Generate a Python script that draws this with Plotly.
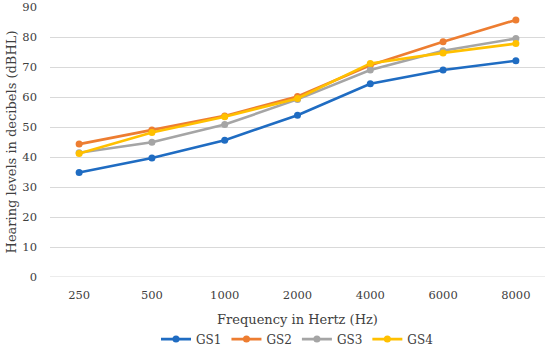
import plotly.graph_objects as go

frequencies = ["250", "500", "1000", "2000", "4000", "6000", "8000"]
gs1 = [34.8, 39.7, 45.6, 53.9, 64.4, 69.0, 72.1]
gs2 = [44.3, 49.0, 53.7, 60.2, 70.6, 78.4, 85.7]
gs3 = [41.4, 44.9, 50.8, 59.2, 69.0, 75.4, 79.5]
gs4 = [41.2, 48.2, 53.4, 59.5, 71.2, 74.7, 77.8]
series_names = ["GS1", "GS2", "GS3", "GS4"]
colors = ["#1F6CC2", "#ED7D31", "#A5A5A5", "#FFC000"]
y_ticks = [0, 10, 20, 30, 40, 50, 60, 70, 80, 90]

fig = go.Figure()
for name, vals, col in zip(series_names, [gs1, gs2, gs3, gs4], colors):
    fig.add_trace(go.Scatter(
        x=frequencies, y=vals, name=name, mode="lines+markers",
        line=dict(color=col, width=2.6),
        marker=dict(color=col, size=7),
        hoverinfo="skip",
    ))

font_family = "DejaVu Serif"
fig.update_layout(
    width=550, height=348,
    margin=dict(l=50, r=5, t=7, b=71, autoexpand=False),
    paper_bgcolor="white", plot_bgcolor="white",
    font=dict(family=font_family, color="#404040", size=12),
    showlegend=True,
    hovermode=False,
    legend=dict(orientation="h", x=0.5, xanchor="center", y=-0.23, yanchor="middle",
                font=dict(size=12, color="#404040"), itemwidth=30,
                tracegroupgap=0, traceorder="normal"),
    xaxis=dict(
        type="category", showgrid=False, zeroline=False, showline=False,
        ticks="", ticklabelstandoff=9, tickfont=dict(size=11.5, color="#404040"),
        title=dict(text="Frequency in Hertz (Hz)", font=dict(size=13, color="#404040"), standoff=14),
    ),
    yaxis=dict(
        range=[0, 90], tickvals=y_ticks, showgrid=True, gridcolor="#D9D9D9", gridwidth=1,
        zeroline=False, showline=False, ticks="", ticklabelstandoff=12,
        tickfont=dict(size=11.5, color="#404040"),
        title=dict(text="Hearing levels in decibels (dBHL)", font=dict(size=13, color="#404040"), standoff=2),
    ),
)
fig.add_shape(type="line", xref="paper", yref="y", x0=0, x1=1, y0=0, y1=0,
              line=dict(color="#D9D9D9", width=1), layer="below")

fig.write_html("out.html", config={"displayModeBar": False, "staticPlot": True},
               post_script="document.body.style.margin='0';document.body.style.padding='0';")
